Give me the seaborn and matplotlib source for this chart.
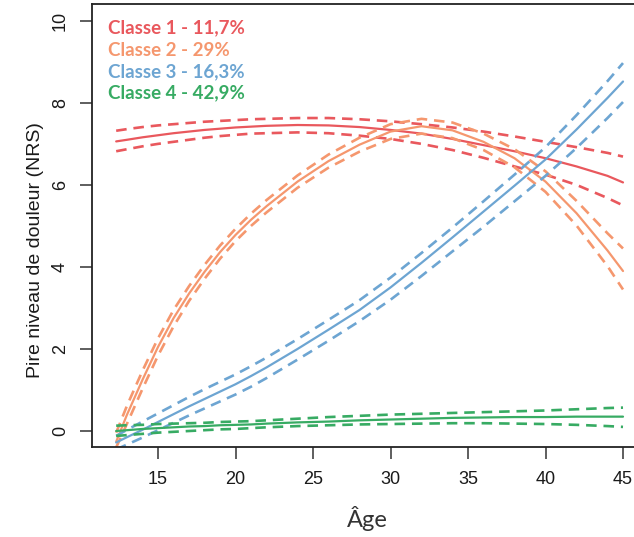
import matplotlib.pyplot as plt
import seaborn as sns

# Age grid (years) and predicted worst pain level (NRS) per latent class
ages = [12.3, 13, 14, 15, 16, 17, 18, 19, 20, 21, 22, 24, 26, 28, 30, 32, 34, 36, 38, 40, 42, 44, 45]

c1_mean = [7.06, 7.10, 7.16, 7.21, 7.26, 7.30, 7.34, 7.37, 7.40, 7.42, 7.44, 7.46, 7.45, 7.41, 7.34, 7.25, 7.12, 6.97, 6.82, 6.65, 6.45, 6.22, 6.06]
c1_upper = [7.32, 7.36, 7.41, 7.45, 7.48, 7.51, 7.54, 7.56, 7.58, 7.60, 7.61, 7.63, 7.63, 7.60, 7.55, 7.48, 7.40, 7.30, 7.18, 7.05, 6.92, 6.78, 6.69]
c1_lower = [6.82, 6.87, 6.94, 7.00, 7.05, 7.10, 7.15, 7.19, 7.22, 7.25, 7.26, 7.28, 7.26, 7.20, 7.12, 7.00, 6.85, 6.66, 6.45, 6.25, 6.00, 5.68, 5.50]

c2_mean = [-0.26, 0.40, 1.25, 2.05, 2.75, 3.35, 3.88, 4.36, 4.78, 5.15, 5.48, 6.08, 6.58, 6.98, 7.30, 7.43, 7.33, 7.05, 6.65, 6.08, 5.31, 4.40, 3.90]
c2_upper = [-0.04, 0.62, 1.47, 2.26, 2.95, 3.53, 4.05, 4.52, 4.93, 5.30, 5.63, 6.23, 6.74, 7.15, 7.48, 7.61, 7.52, 7.25, 6.87, 6.33, 5.61, 4.82, 4.45]
c2_lower = [-0.40, 0.18, 1.03, 1.84, 2.55, 3.17, 3.71, 4.20, 4.63, 5.00, 5.33, 5.93, 6.42, 6.81, 7.12, 7.25, 7.14, 6.85, 6.43, 5.83, 5.01, 4.02, 3.45]

c3_mean = [-0.28, -0.15, 0.03, 0.22, 0.41, 0.60, 0.78, 0.96, 1.14, 1.34, 1.55, 2.00, 2.47, 2.95, 3.50, 4.10, 4.72, 5.35, 5.98, 6.62, 7.35, 8.12, 8.52]
c3_upper = [-0.12, 0.03, 0.23, 0.43, 0.63, 0.83, 1.02, 1.20, 1.38, 1.58, 1.79, 2.24, 2.71, 3.19, 3.74, 4.34, 4.96, 5.60, 6.25, 6.92, 7.70, 8.53, 8.97]
c3_lower = [-0.45, -0.33, -0.16, 0.02, 0.20, 0.38, 0.55, 0.72, 0.89, 1.08, 1.29, 1.74, 2.20, 2.68, 3.20, 3.78, 4.38, 4.98, 5.60, 6.22, 6.90, 7.63, 8.02]

c4_mean = [0.00, 0.02, 0.05, 0.07, 0.09, 0.11, 0.12, 0.14, 0.15, 0.16, 0.18, 0.21, 0.23, 0.26, 0.28, 0.30, 0.32, 0.33, 0.34, 0.34, 0.35, 0.35, 0.35]
c4_upper = [0.13, 0.14, 0.15, 0.17, 0.18, 0.19, 0.20, 0.22, 0.23, 0.24, 0.26, 0.30, 0.34, 0.37, 0.40, 0.42, 0.44, 0.46, 0.48, 0.50, 0.53, 0.56, 0.57]
c4_lower = [-0.12, -0.10, -0.07, -0.04, -0.02, 0.00, 0.02, 0.04, 0.05, 0.07, 0.09, 0.12, 0.14, 0.16, 0.17, 0.18, 0.19, 0.19, 0.18, 0.17, 0.15, 0.12, 0.10]

class_labels = ['Classe 1 - 11,7%', 'Classe 2 - 29%', 'Classe 3 - 16,3%', 'Classe 4 - 42,9%']
class_colors = ['#E9585D', '#F5976E', '#6DA5D2', '#37AB63']
series = [(c1_mean, c1_upper, c1_lower),
          (c2_mean, c2_upper, c2_lower),
          (c3_mean, c3_upper, c3_lower),
          (c4_mean, c4_upper, c4_lower)]

x_ticks = [15, 20, 25, 30, 35, 40, 45]
y_ticks = [0, 2, 4, 6, 8, 10]

sns.set_theme(style='white')
plt.rcParams['font.family'] = ['Liberation Sans', 'DejaVu Sans']

fig = plt.figure(figsize=(6.34, 5.37), dpi=100)
# axes run a bit past the right edge, like the cropped original
ax = fig.add_axes([92 / 634, 90 / 537, 551 / 634, 443 / 537])

for (mean, upper, lower), color in zip(series, class_colors):
    sns.lineplot(x=ages, y=mean, ax=ax, color=color, linewidth=1.6, errorbar=None)
    for bound in (upper, lower):
        sns.lineplot(x=ages, y=bound, ax=ax, color=color, linewidth=1.9,
                     linestyle=(0, (4, 2.6)), errorbar=None)

ax.set_xlim(10.74, 46.29)
ax.set_ylim(-0.39, 10.41)
ax.set_xticks(x_ticks)
ax.set_yticks(y_ticks)
ax.set_xticklabels([str(t) for t in x_ticks])
ax.set_yticklabels([str(t) for t in y_ticks])
for lbl in ax.get_yticklabels():
    lbl.set_rotation(90)
    lbl.set_va('center')

for side in ['left', 'bottom', 'top', 'right']:
    ax.spines[side].set_visible(True)
    ax.spines[side].set_color('#222222')
    ax.spines[side].set_linewidth(1.3)

ax.tick_params(axis='both', direction='out', length=8.5, width=1.1, color='#333333',
               labelsize=13, labelcolor='#1a1a1a')
ax.tick_params(axis='x', pad=9, bottom=True)
ax.tick_params(axis='y', pad=8, left=True)

ax.set_ylabel('Pire niveau de douleur (NRS)', fontsize=14, color='#1a1a1a')
ax.yaxis.label.set_va('center')
ax.yaxis.set_label_coords(-0.103, 0.445)

ax.set_xlabel('Âge', fontsize=17, family=['Lato', 'DejaVu Sans'], color='#333333', labelpad=13)

# class legend in the upper left corner
rows_y = [28, 50, 72, 93]
for label, color, ry in zip(class_labels, class_colors, rows_y):
    fig.text(108 / 634, 1 - ry / 537, label, color=color, fontsize=13.5, fontweight='bold',
             family=['Lato', 'DejaVu Sans'], va='center', ha='left')

fig.savefig('out.png', dpi=100)
